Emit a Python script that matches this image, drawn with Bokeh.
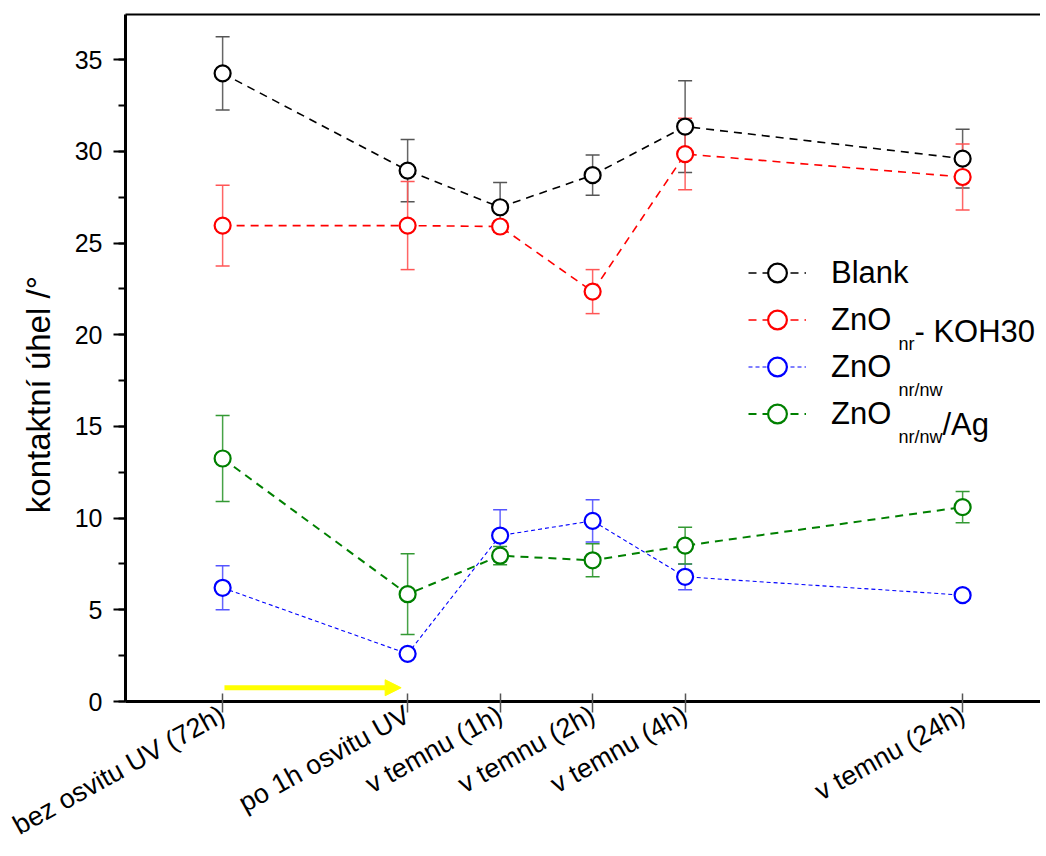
import math
from bokeh.plotting import figure
from bokeh.models import (Range1d, FixedTicker, SingleIntervalTicker, LinearAxis, Whisker,
                          ColumnDataSource, Legend, LegendItem, Label, Arrow,
                          NormalHead, TeeHead)
from bokeh.embed import file_html
from bokeh.resources import INLINE

# ---------------- data ----------------
categories = ["bez osvitu UV (72h)", "po 1h osvitu UV", "v temnu (1h)",
              "v temnu (2h)", "v temnu (4h)", "v temnu (24h)"]
x_pos = [0, 2, 3, 4, 5, 8]

blank = [34.25, 28.95, 26.95, 28.7, 31.35, 29.6]
blank_err = [2.0, 1.7, 1.35, 1.1, 2.5, 1.6]
koh = [25.95, 25.95, 25.9, 22.35, 29.85, 28.6]
koh_err = [2.2, 2.4, 0.3, 1.2, 1.95, 1.8]
nrnw = [6.2, 2.6, 9.05, 9.85, 6.8, 5.8]
nrnw_err = [1.2, 0.1, 1.4, 1.15, 0.7, 0.1]
ag = [13.25, 5.85, 7.95, 7.7, 8.5, 10.6]
ag_err = [2.35, 2.2, 0.5, 0.9, 1.0, 0.85]

arrow_x = [0.02, 1.93]
arrow_y = 0.75

FONT = "Liberation Sans"

p = figure(width=1040, height=856, output_backend="svg", toolbar_location=None,
           x_range=Range1d(-1.05, 8.842), y_range=Range1d(0, 37.46),
           min_border_left=125, min_border_right=0, min_border_top=14, min_border_bottom=155)
p.outline_line_color = None
p.xgrid.visible = False
p.ygrid.visible = False
p.background_fill_color = "white"
p.border_fill_color = "white"

# ---- axes ----
xa = p.xaxis[0]
xa.ticker = FixedTicker(ticks=x_pos)
xa.major_label_overrides = {x: c for x, c in zip(x_pos, categories)}
xa.major_label_orientation = 0.506
xa.major_label_text_font = FONT
xa.major_label_text_font_size = "27px"
xa.major_label_text_color = "black"
xa.major_label_standoff = 0
xa.major_tick_in = 8
xa.major_tick_out = 11
xa.major_tick_line_color = "#555555"
xa.major_tick_line_width = 1.5
xa.minor_tick_line_color = None
xa.axis_line_width = 3
xa.axis_line_color = "black"

ya = p.yaxis[0]
ya.ticker = SingleIntervalTicker(interval=5, num_minor_ticks=2)
ya.major_label_text_font = FONT
ya.major_label_text_font_size = "25px"
ya.major_label_text_color = "black"
ya.major_label_standoff = 11
ya.major_tick_in = 0
ya.major_tick_out = 12
ya.minor_tick_in = 0
ya.minor_tick_out = 7
ya.major_tick_line_width = 2
ya.minor_tick_line_width = 2
ya.major_tick_line_color = "black"
ya.minor_tick_line_color = "black"
ya.axis_line_width = 3
ya.axis_line_color = "black"
ya.axis_label = "kontaktní úhel /°" + "\u00a0" * 8
ya.axis_label_text_font = FONT
ya.axis_label_text_font_size = "33px"
ya.axis_label_text_font_style = "normal"
ya.axis_label_text_color = "black"
ya.axis_label_standoff = 15

top_axis = LinearAxis(ticker=FixedTicker(ticks=[]), major_tick_out=0, major_tick_in=0,
                      major_label_standoff=0, major_label_text_font_size="0px",
                      minor_tick_line_color=None, axis_line_width=2, axis_line_color="black")
p.add_layout(top_axis, "above")

# ---- series ----
series = [
    ("Blank", blank, blank_err, "black", "#555555", "8 6", 1.6, None),
    ("ZnO", koh, koh_err, "red", "#ff5555", "8 6", 1.6, "nr"),
    ("ZnO", nrnw, nrnw_err, "blue", "#5555ff", "4 3", 1.1, "nr/nw"),
    ("ZnO", ag, ag_err, "green", "#339933", "8 6", 2.0, "nr/nw"),
]

line_renderers = []
scatter_renderers = []
for name, vals, errs, col, ecol, dash, lw, sub in series:
    src = ColumnDataSource(dict(x=x_pos, y=vals,
                                upper=[v + e for v, e in zip(vals, errs)],
                                lower=[v - e for v, e in zip(vals, errs)]))
    lr = p.line("x", "y", source=src, line_color=col, line_dash=dash, line_width=lw)
    w = Whisker(source=src, base="x", upper="upper", lower="lower",
                line_color=ecol, line_width=1.5, line_alpha=0.9,
                upper_head=TeeHead(size=14, line_color=ecol, line_width=1.5),
                lower_head=TeeHead(size=14, line_color=ecol, line_width=1.5))
    p.add_layout(w)
    line_renderers.append((lr, src))

for (name, vals, errs, col, ecol, dash, lw, sub), (lr, src) in zip(series, line_renderers):
    sr = p.scatter("x", "y", source=src, marker="circle", size=16, line_color=col,
                   line_width=2.2, fill_color="white")
    scatter_renderers.append(sr)

# ---- yellow arrow ----
p.add_layout(Arrow(end=NormalHead(size=16, fill_color="#ffff00", line_color="#ffff00"),
                   x_start=arrow_x[0], y_start=arrow_y, x_end=arrow_x[1], y_end=arrow_y,
                   line_color="#ffff00", line_width=5))

# ---- legend ----
items = [LegendItem(label=s[0], renderers=[lr, sr])
         for s, (lr, src), sr in zip(series, line_renderers, scatter_renderers)]
legend = Legend(items=items, location=(623, 264), border_line_color=None,
                background_fill_alpha=0, padding=0, margin=0, spacing=0,
                glyph_width=58, glyph_height=47, label_height=47, label_standoff=25,
                label_text_font=FONT, label_text_font_size="31px", label_text_color="black")
p.add_layout(legend)

# subscripts and suffixes (screen units relative to frame)
sub_x = 773
row_base = [None, 370.0, 323.3, 276.6]  # main text baselines (frame px from bottom)
for i, (name, vals, errs, col, ecol, dash, lw, sub) in enumerate(series):
    if sub is None:
        continue
    p.add_layout(Label(x=sub_x, y=row_base[i] - 12, x_units="screen", y_units="screen",
                       text=sub, text_font=FONT, text_font_size="18px", text_color="black",
                       text_baseline="alphabetic"))
p.add_layout(Label(x=sub_x + 16, y=row_base[1], x_units="screen", y_units="screen",
                   text=" - KOH30", text_font=FONT, text_font_size="31px", text_color="black",
                   text_baseline="alphabetic"))
p.add_layout(Label(x=sub_x + 44, y=row_base[3], x_units="screen", y_units="screen",
                   text="/Ag", text_font=FONT, text_font_size="31px", text_color="black",
                   text_baseline="alphabetic"))

open("out.html", "w").write(file_html(p, INLINE))
